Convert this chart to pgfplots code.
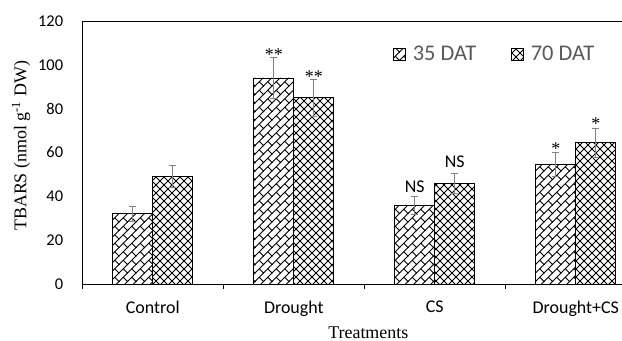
\documentclass[border=0pt]{standalone}
\usepackage{pgfplots}
\pgfplotsset{compat=1.18}
\usepackage{pgfplotstable}
\usepackage{fontspec}
\setmainfont{Carlito}
\newfontfamily\timesfont{Liberation Serif}
\usetikzlibrary{patterns}
\definecolor{leggray}{HTML}{595959}
\definecolor{errgray}{HTML}{808080}

\pgfdeclarepatternformonly{dbrick}{\pgfpoint{-1bp}{-1bp}}{\pgfpoint{9.5bp}{9.5bp}}{\pgfpoint{8.5bp}{8.5bp}}{%
  \pgfsetlinewidth{0.9bp}%
  \pgfpathmoveto{\pgfpoint{-0.5bp}{-0.5bp}}\pgfpathlineto{\pgfpoint{9bp}{9bp}}%
  \pgfpathmoveto{\pgfpoint{8.5bp}{0bp}}\pgfpathlineto{\pgfpoint{4.25bp}{4.25bp}}%
  \pgfusepath{stroke}}
\pgfdeclarepatternformonly{dcross}{\pgfpoint{-1bp}{-1bp}}{\pgfpoint{9bp}{9bp}}{\pgfpoint{8bp}{8bp}}{%
  \pgfsetlinewidth{0.9bp}%
  \pgfpathmoveto{\pgfpoint{-0.5bp}{-0.5bp}}\pgfpathlineto{\pgfpoint{8.5bp}{8.5bp}}%
  \pgfpathmoveto{\pgfpoint{-0.5bp}{8.5bp}}\pgfpathlineto{\pgfpoint{8.5bp}{-0.5bp}}%
  \pgfusepath{stroke}}

\pgfplotstableread{
x  y35   e35  y70  e70
0  32    3.3  49   5
1  94    9.5  85   8.5
2  36    4    46   4.7
3  54.6  5.5  64.5 6.7
}\datatable

\begin{document}
\begin{tikzpicture}
\useasboundingbox (0,0) rectangle (622bp,341bp);
\begin{axis}[
  at={(82.3bp,57bp)}, anchor=south west,
  scale only axis,
  width=564bp, height=263bp,
  ybar=0pt, bar width=40bp,
  xmin=-0.5, xmax=3.5,
  ymin=0, ymax=120,
  axis line style={line width=0.8bp, black},
  xtick={0,1,2,3},
  xticklabels={Control,Drought,CS,Drought+CS},
  ytick={0,20,40,60,80,100,120},
  major tick length=0pt,
  tick align=outside,
  xtick pos=bottom, ytick pos=left,
  extra x ticks={-0.5,0.5,1.5,2.5,3.5},
  extra x tick labels={},
  extra x tick style={major tick length=5bp, tick style={black, line width=0.8bp}},
  /pgf/number format/assume math mode=true,
  yticklabel style={font=\fontsize{16.5}{18}\selectfont, anchor=east, inner sep=0pt, xshift=-19bp},
  xticklabel style={font=\fontsize{18}{20}\selectfont, anchor=north, inner sep=0pt, yshift=-17bp},
  xlabel={\timesfont Treatments},
  xlabel style={font=\fontsize{18}{20}\selectfont, at={(axis description cs:0.5,0)}, anchor=north, inner sep=0pt, yshift=-42.5bp, xshift=4bp},
  ylabel={\timesfont TBARS (nmol g\textsuperscript{-1} DW)},
  ylabel style={font=\fontsize{18}{20}\selectfont, at={(axis description cs:-0.1087,0.525)}, anchor=center, inner sep=0pt},
  legend columns=2,
  legend style={at={(rel axis cs:0.551,0.8745)}, anchor=west, draw=none, fill=none,
    font=\fontsize{22.5}{24}\selectfont\color{leggray}, inner sep=0pt,
    nodes={inner sep=0pt},
    column sep=7bp,
    /tikz/every even column/.append style={column sep=35bp}},
  legend cell align=left,
]
\addplot[draw=black, line width=0.8bp,
  pattern=dbrick,
  legend image code/.code={\draw[pattern=dbrick, line width=0.6bp] (0bp,-6bp) rectangle (12bp,6bp);},
  error bars/.cd, y dir=both, y explicit,
  error bar style={errgray, line width=0.7bp},
  error mark options={errgray, line width=0.7bp, mark size=3.5bp, rotate=90}]
  table[x=x, y=y35, y error=e35] {\datatable};
\addlegendentry{35 DAT}
\addplot[draw=black, line width=0.8bp,
  pattern=dcross,
  legend image code/.code={\draw[pattern=dcross, line width=0.6bp] (0bp,-6bp) rectangle (12bp,6bp);},
  error bars/.cd, y dir=both, y explicit,
  error bar style={errgray, line width=0.7bp},
  error mark options={errgray, line width=0.7bp, mark size=3.5bp, rotate=90}]
  table[x=x, y=y70, y error=e70] {\datatable};
\addlegendentry{70 DAT}

\begin{scope}[every node/.style={font=\fontsize{18}{20}\selectfont, inner sep=0pt, anchor=base}]
\node[xshift=-20bp, yshift=-3bp] at (axis cs:1,103.5) {\timesfont **};
\node[xshift=20bp, yshift=-3bp] at (axis cs:1,93.5) {\timesfont **};
\node[xshift=-20bp, yshift=4bp] at (axis cs:2,40) {NS};
\node[xshift=20bp, yshift=5bp] at (axis cs:2,50.7) {NS};
\node[xshift=-20bp, yshift=-2bp] at (axis cs:3,60.1) {\timesfont *};
\node[xshift=20bp, yshift=-2bp] at (axis cs:3,71.2) {\timesfont *};
\end{scope}
\end{axis}
\end{tikzpicture}
\end{document}
